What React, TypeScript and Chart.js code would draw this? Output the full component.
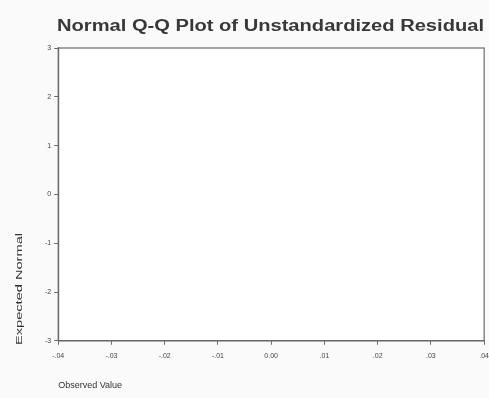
import React, { useEffect, useRef } from "react";
import { Chart, registerables } from "chart.js";

Chart.register(...registerables);

const chartTitle = "Normal Q-Q Plot of Unstandardized Residual";
const xAxisTitle = "Observed Value";
const yAxisTitle = "Expected Normal";
// The reference plot shows no visible points
const observedValues: number[] = [];
const expectedNormal: number[] = [];
const xMin = -0.04;
const xMax = 0.04;
const xStep = 0.01;
const yMin = -3;
const yMax = 3;
const yStep = 1;

const FONT = "'Liberation Sans', Arial, sans-serif";

function fmtX(v: number): string {
  const n = Math.round(v * 100);
  if (n === 0) return "0.00";
  const a = Math.abs(n);
  return (n < 0 ? "-" : "") + "." + (a < 10 ? "0" + a : String(a));
}

export default function App() {
  const ref = useRef<HTMLCanvasElement | null>(null);
  useEffect(() => {
    if (!ref.current) return;
    const frame = {
      id: "frame",
      beforeDraw(c: any) {
        const ctx = c.ctx;
        ctx.save();
        ctx.fillStyle = "#fafafa";
        ctx.fillRect(0, 0, c.width, c.height);
        ctx.fillStyle = "#ffffff";
        const a = c.chartArea;
        ctx.fillRect(a.left, a.top, a.right - a.left, a.bottom - a.top);
        ctx.restore();
      },
      afterDraw(c: any) {
        const ctx = c.ctx;
        const a = c.chartArea;
        ctx.save();
        ctx.strokeStyle = "#6a6a6a";
        ctx.lineWidth = 1.2;
        ctx.strokeRect(a.left, a.top, a.right - a.left, a.bottom - a.top);
        // main title, fitted to the plot width
        ctx.fillStyle = "#383838";
        ctx.font = "bold 16px " + FONT;
        ctx.textAlign = "left";
        ctx.textBaseline = "alphabetic";
        const tw = ctx.measureText(chartTitle).width;
        const target = 427;
        ctx.save();
        ctx.translate(57, 31);
        ctx.scale(target / tw, 1);
        ctx.fillText(chartTitle, 0, 0);
        ctx.restore();
        // y axis title, stretched along its length
        ctx.font = "9px " + FONT;
        const yw = ctx.measureText(yAxisTitle).width;
        ctx.save();
        ctx.translate(20, 345);
        ctx.rotate(-Math.PI / 2);
        ctx.scale(112 / yw, 1);
        ctx.fillStyle = "#333";
        ctx.textBaseline = "middle";
        ctx.fillText(yAxisTitle, 0, 0);
        ctx.restore();
        ctx.restore();
      },
    };
    const chart = new Chart(ref.current, {
      type: "scatter",
      data: {
        datasets: [
          {
            data: observedValues.map((x, i) => ({ x, y: expectedNormal[i] })),
            pointRadius: 2,
            backgroundColor: "#333",
            borderColor: "#333",
          },
        ],
      },
      plugins: [frame],
      options: {
        responsive: false,
        animation: false,
        layout: { padding: { left: 42, right: 0, top: 48, bottom: 7 } },
        plugins: {
          legend: { display: false },
          tooltip: { enabled: false },
          title: { display: false },
        },
        scales: {
          x: {
            type: "linear",
            min: xMin,
            max: xMax,
            border: { display: true, color: "#6a6a6a", width: 1.2 },
            grid: { drawOnChartArea: false, tickLength: 4, color: "#6a6a6a" },
            ticks: {
              stepSize: xStep,
              color: "#444",
              font: { size: 7, family: FONT },
              padding: 7,
              maxRotation: 0,
              callback: (v: any) => fmtX(Number(v)),
            },
            title: {
              display: true,
              text: xAxisTitle,
              align: "start",
              color: "#333",
              font: { size: 9, family: FONT },
              padding: { top: 13, bottom: 0 },
            },
          },
          y: {
            type: "linear",
            min: yMin,
            max: yMax,
            border: { display: true, color: "#6a6a6a", width: 1.2 },
            grid: { drawOnChartArea: false, tickLength: 4, color: "#6a6a6a" },
            ticks: {
              stepSize: yStep,
              color: "#444",
              font: { size: 7, family: FONT },
              padding: 3,
            },
            title: { display: false },
          },
        },
      },
    } as any);
    return () => chart.destroy();
  }, []);
  return (
    <div style={{ position: "fixed", left: 0, top: 0, width: 489, height: 398, overflow: "hidden", background: "#fafafa" }}>
      <canvas ref={ref} width={496} height={398} style={{ display: "block" }} />
    </div>
  );
}
